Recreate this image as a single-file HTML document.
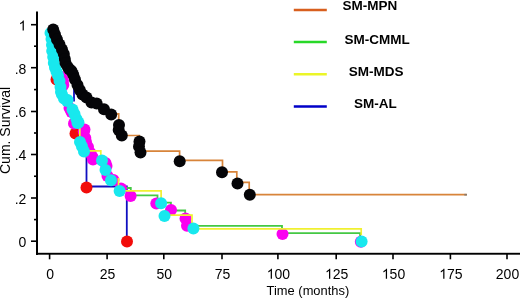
<!DOCTYPE html>
<html><head><meta charset="utf-8"><style>
html,body{margin:0;padding:0;background:#fff;}
body{width:520px;height:298px;overflow:hidden;}
svg{display:block;font-family:"Liberation Sans",sans-serif;will-change:transform;}
</style></head><body>
<svg width="520" height="298" viewBox="0 0 520 298">
<rect x="0" y="0" width="520" height="298" fill="#fff"/>
<g fill="none">
<path d="M74,86 L74,101.5 M86.5,150 L86.5,186.5 L126.8,186.5 L126.8,241" stroke="#1010C0" stroke-width="1.8"/>
<path d="M119,188 L130.8,188 L130.8,195.4 L157.5,195.4 L157.5,202.6 L170.9,202.6 L170.9,210.5 L185.2,210.5 L185.2,225.9 L282,225.9 L282,233.2 L360.1,233.2 L360.1,241" stroke="#44C844" stroke-width="1.8"/>
</g>
<circle cx="56.5" cy="79.5" r="6.0" fill="#F20C0A"/>
<circle cx="75.5" cy="133.5" r="6.0" fill="#F20C0A"/>
<circle cx="86.5" cy="187.5" r="6.0" fill="#F20C0A"/>
<circle cx="127" cy="241.6" r="6.0" fill="#F20C0A"/>
<circle cx="61.5" cy="77" r="6.0" fill="#FA00F0"/>
<circle cx="63" cy="80.5" r="6.0" fill="#FA00F0"/>
<circle cx="63.3" cy="85" r="6.0" fill="#FA00F0"/>
<circle cx="69.5" cy="108" r="6.0" fill="#FA00F0"/>
<circle cx="71.5" cy="112" r="6.0" fill="#FA00F0"/>
<circle cx="74" cy="123.5" r="6.0" fill="#FA00F0"/>
<circle cx="84.5" cy="129.5" r="6.0" fill="#FA00F0"/>
<circle cx="83.8" cy="131.5" r="6.0" fill="#FA00F0"/>
<circle cx="85.3" cy="138" r="6.0" fill="#FA00F0"/>
<circle cx="86" cy="142" r="6.0" fill="#FA00F0"/>
<circle cx="88" cy="147" r="6.0" fill="#FA00F0"/>
<circle cx="90.5" cy="153" r="6.0" fill="#FA00F0"/>
<circle cx="92.5" cy="157" r="6.0" fill="#FA00F0"/>
<circle cx="93" cy="159.5" r="6.0" fill="#FA00F0"/>
<circle cx="105.5" cy="163" r="6.0" fill="#FA00F0"/>
<circle cx="106.5" cy="166" r="6.0" fill="#FA00F0"/>
<circle cx="107.5" cy="176" r="6.0" fill="#FA00F0"/>
<circle cx="113.5" cy="180" r="6.0" fill="#FA00F0"/>
<circle cx="121" cy="188.5" r="6.0" fill="#FA00F0"/>
<circle cx="130.6" cy="196.1" r="6.0" fill="#FA00F0"/>
<circle cx="156.3" cy="203.5" r="6.0" fill="#FA00F0"/>
<circle cx="171" cy="210.1" r="6.0" fill="#FA00F0"/>
<circle cx="185.5" cy="218.5" r="6.0" fill="#FA00F0"/>
<circle cx="187" cy="225.8" r="6.0" fill="#FA00F0"/>
<circle cx="282.5" cy="234" r="6.0" fill="#FA00F0"/>
<circle cx="360.8" cy="241.8" r="6.0" fill="#FA00F0"/>
<path d="M79.8,128 L79.8,140 M88,150.9 L100.8,150.9 L100.8,160 M118.5,178 L118.5,190.9 L161.1,190.9 L161.1,205 M165,215.2 L192,215.2 L192,228.8 L361.2,228.8 L361.2,235" fill="none" stroke="#F0F030" stroke-width="1.7"/>
<circle cx="50.5" cy="33" r="6.0" fill="#18E8EE"/>
<circle cx="51.5" cy="39" r="6.0" fill="#18E8EE"/>
<circle cx="52" cy="45" r="6.0" fill="#18E8EE"/>
<circle cx="52.2" cy="51" r="6.0" fill="#18E8EE"/>
<circle cx="53.2" cy="57" r="6.0" fill="#18E8EE"/>
<circle cx="53.8" cy="63" r="6.0" fill="#18E8EE"/>
<circle cx="55" cy="67.5" r="6.0" fill="#18E8EE"/>
<circle cx="56.5" cy="71.5" r="6.0" fill="#18E8EE"/>
<circle cx="58" cy="75.5" r="6.0" fill="#18E8EE"/>
<circle cx="59.5" cy="81" r="6.0" fill="#18E8EE"/>
<circle cx="60.5" cy="87" r="6.0" fill="#18E8EE"/>
<circle cx="61" cy="92" r="6.0" fill="#18E8EE"/>
<circle cx="62" cy="94.5" r="6.0" fill="#18E8EE"/>
<circle cx="64" cy="98.5" r="6.0" fill="#18E8EE"/>
<circle cx="67.5" cy="100" r="6.0" fill="#18E8EE"/>
<circle cx="67" cy="101" r="6.0" fill="#18E8EE"/>
<circle cx="72.5" cy="109.5" r="6.0" fill="#18E8EE"/>
<circle cx="74.5" cy="114" r="6.0" fill="#18E8EE"/>
<circle cx="76.5" cy="119" r="6.0" fill="#18E8EE"/>
<circle cx="77.5" cy="123" r="6.0" fill="#18E8EE"/>
<circle cx="78.5" cy="122.5" r="6.0" fill="#18E8EE"/>
<circle cx="80" cy="142" r="6.0" fill="#18E8EE"/>
<circle cx="82" cy="146.5" r="6.0" fill="#18E8EE"/>
<circle cx="84" cy="151.5" r="6.0" fill="#18E8EE"/>
<circle cx="102" cy="160.5" r="6.0" fill="#18E8EE"/>
<circle cx="105.5" cy="170" r="6.0" fill="#18E8EE"/>
<circle cx="111" cy="180.3" r="6.0" fill="#18E8EE"/>
<circle cx="119.6" cy="191" r="6.0" fill="#18E8EE"/>
<circle cx="161.1" cy="203.3" r="6.0" fill="#18E8EE"/>
<circle cx="164.5" cy="216" r="6.0" fill="#18E8EE"/>
<circle cx="193.4" cy="228.6" r="6.0" fill="#18E8EE"/>
<circle cx="361.6" cy="241.6" r="6.0" fill="#18E8EE"/>
<path d="M53,29 L60,50 L70,75 L78,93 L90,101 L110,113.8 L118.7,113.8 L118.7,124 L122,124 L122,135.5 L139.3,135.5 L139.3,151.1 L179.6,151.1 L179.6,160.4 L222.5,160.4 L222.5,171.9 L236.8,171.9 L236.8,182.4 L249.2,182.4 L249.2,194.7 L466.7,194.7" fill="none" stroke="#D8843A" stroke-width="1.7"/>
<line x1="464.3" y1="194.7" x2="467" y2="194.7" stroke="#8a7a6a" stroke-width="1.7"/>
<circle cx="53.2" cy="29.5" r="6.0" fill="#050508"/>
<circle cx="55" cy="34.5" r="6.0" fill="#050508"/>
<circle cx="57" cy="39.5" r="6.0" fill="#050508"/>
<circle cx="59.5" cy="44.5" r="6.0" fill="#050508"/>
<circle cx="62" cy="49.5" r="6.0" fill="#050508"/>
<circle cx="63.8" cy="54" r="6.0" fill="#050508"/>
<circle cx="64.8" cy="59" r="6.0" fill="#050508"/>
<circle cx="65.5" cy="63" r="6.0" fill="#050508"/>
<circle cx="67.8" cy="67" r="6.0" fill="#050508"/>
<circle cx="69.5" cy="69.5" r="6.0" fill="#050508"/>
<circle cx="71.5" cy="71" r="6.0" fill="#050508"/>
<circle cx="73.2" cy="74.5" r="6.0" fill="#050508"/>
<circle cx="75" cy="79.5" r="6.0" fill="#050508"/>
<circle cx="77.5" cy="85" r="6.0" fill="#050508"/>
<circle cx="79.8" cy="90" r="6.0" fill="#050508"/>
<circle cx="82.5" cy="94.5" r="6.0" fill="#050508"/>
<circle cx="86.5" cy="97.5" r="6.0" fill="#050508"/>
<circle cx="91.5" cy="102.5" r="6.0" fill="#050508"/>
<circle cx="96.7" cy="103.5" r="6.0" fill="#050508"/>
<circle cx="104" cy="109.3" r="6.0" fill="#050508"/>
<circle cx="111.2" cy="114.6" r="6.0" fill="#050508"/>
<circle cx="119" cy="125" r="6.0" fill="#050508"/>
<circle cx="118.7" cy="130" r="6.0" fill="#050508"/>
<circle cx="121.8" cy="135.5" r="6.0" fill="#050508"/>
<circle cx="139.5" cy="141.5" r="6.0" fill="#050508"/>
<circle cx="139" cy="146.5" r="6.0" fill="#050508"/>
<circle cx="140.5" cy="152.4" r="6.0" fill="#050508"/>
<circle cx="179.7" cy="161.2" r="6.0" fill="#050508"/>
<circle cx="222" cy="172.2" r="6.0" fill="#050508"/>
<circle cx="237.5" cy="183.5" r="6.0" fill="#050508"/>
<circle cx="249.8" cy="194.7" r="6.0" fill="#050508"/>
<rect x="36" y="11.5" width="2" height="243.4" fill="#000"/>
<rect x="36" y="252.8" width="484" height="1.9" fill="#000"/>
<line x1="31" y1="241.20" x2="37" y2="241.20" stroke="#000" stroke-width="1.6"/><line x1="31" y1="198.00" x2="37" y2="198.00" stroke="#000" stroke-width="1.6"/><line x1="31" y1="154.50" x2="37" y2="154.50" stroke="#000" stroke-width="1.6"/><line x1="31" y1="111.50" x2="37" y2="111.50" stroke="#000" stroke-width="1.6"/><line x1="31" y1="67.70" x2="37" y2="67.70" stroke="#000" stroke-width="1.6"/><line x1="31" y1="24.70" x2="37" y2="24.70" stroke="#000" stroke-width="1.6"/><line x1="34" y1="219.60" x2="37" y2="219.60" stroke="#000" stroke-width="1.6"/><line x1="34" y1="176.25" x2="37" y2="176.25" stroke="#000" stroke-width="1.6"/><line x1="34" y1="133.00" x2="37" y2="133.00" stroke="#000" stroke-width="1.6"/><line x1="34" y1="89.60" x2="37" y2="89.60" stroke="#000" stroke-width="1.6"/><line x1="34" y1="46.20" x2="37" y2="46.20" stroke="#000" stroke-width="1.6"/><line x1="49.60" y1="254" x2="49.60" y2="259.3" stroke="#000" stroke-width="1.6"/><line x1="107.10" y1="254" x2="107.10" y2="259.3" stroke="#000" stroke-width="1.6"/><line x1="163.80" y1="254" x2="163.80" y2="259.3" stroke="#000" stroke-width="1.6"/><line x1="222.00" y1="254" x2="222.00" y2="259.3" stroke="#000" stroke-width="1.6"/><line x1="277.90" y1="254" x2="277.90" y2="259.3" stroke="#000" stroke-width="1.6"/><line x1="336.20" y1="254" x2="336.20" y2="259.3" stroke="#000" stroke-width="1.6"/><line x1="393.00" y1="254" x2="393.00" y2="259.3" stroke="#000" stroke-width="1.6"/><line x1="450.40" y1="254" x2="450.40" y2="259.3" stroke="#000" stroke-width="1.6"/><line x1="507.00" y1="254" x2="507.00" y2="259.3" stroke="#000" stroke-width="1.6"/>
<g font-size="13.5" fill="#000">
<text x="18.62" y="247.10" font-size="14">0</text><text x="14.72" y="203.90" font-size="14">.</text><text x="18.62" y="203.90" font-size="14">2</text><text x="14.72" y="160.40" font-size="14">.</text><text x="18.62" y="160.40" font-size="14">4</text><text x="14.72" y="117.40" font-size="14">.</text><text x="18.62" y="117.40" font-size="14">6</text><text x="14.72" y="73.60" font-size="14">.</text><text x="18.62" y="73.60" font-size="14">8</text><path d="M23.84,30.60 L22.61,30.60 L22.61,22.75 C22.31,23.03 21.92,23.32 21.43,23.60 C20.94,23.89 20.51,24.10 20.14,24.24 L20.14,23.05 C20.81,22.75 21.39,22.37 21.89,21.92 C22.40,21.49 22.75,21.05 22.96,20.58 L23.84,20.58 Z" fill="#000"/>
<text x="46.21" y="278.70" font-size="14">0</text><text x="99.82" y="278.70" font-size="14">2</text><text x="107.60" y="278.70" font-size="14">5</text><text x="156.52" y="278.70" font-size="14">5</text><text x="164.30" y="278.70" font-size="14">0</text><text x="214.72" y="278.70" font-size="14">7</text><text x="222.50" y="278.70" font-size="14">5</text><path d="M271.95,278.70 L270.71,278.70 L270.71,270.85 C270.42,271.13 270.03,271.42 269.54,271.70 C269.05,271.99 268.61,272.20 268.25,272.34 L268.25,271.15 C268.92,270.85 269.50,270.47 270.00,270.02 C270.50,269.59 270.85,269.15 271.06,268.68 L271.95,268.68 Z" fill="#000"/><text x="274.51" y="278.70" font-size="14">0</text><text x="282.29" y="278.70" font-size="14">0</text><path d="M330.25,278.70 L329.01,278.70 L329.01,270.85 C328.72,271.13 328.33,271.42 327.84,271.70 C327.35,271.99 326.91,272.20 326.55,272.34 L326.55,271.15 C327.22,270.85 327.80,270.47 328.30,270.02 C328.80,269.59 329.15,269.15 329.36,268.68 L330.25,268.68 Z" fill="#000"/><text x="332.81" y="278.70" font-size="14">2</text><text x="340.59" y="278.70" font-size="14">5</text><path d="M387.05,278.70 L385.81,278.70 L385.81,270.85 C385.52,271.13 385.13,271.42 384.64,271.70 C384.15,271.99 383.71,272.20 383.35,272.34 L383.35,271.15 C384.02,270.85 384.60,270.47 385.10,270.02 C385.60,269.59 385.95,269.15 386.16,268.68 L387.05,268.68 Z" fill="#000"/><text x="389.61" y="278.70" font-size="14">5</text><text x="397.39" y="278.70" font-size="14">0</text><path d="M444.45,278.70 L443.21,278.70 L443.21,270.85 C442.92,271.13 442.53,271.42 442.04,271.70 C441.55,271.99 441.11,272.20 440.75,272.34 L440.75,271.15 C441.42,270.85 442.00,270.47 442.50,270.02 C443.00,269.59 443.35,269.15 443.56,268.68 L444.45,268.68 Z" fill="#000"/><text x="447.01" y="278.70" font-size="14">7</text><text x="454.79" y="278.70" font-size="14">5</text><text x="495.82" y="278.70" font-size="14">2</text><text x="503.61" y="278.70" font-size="14">0</text><text x="511.39" y="278.70" font-size="14">0</text>
</g>
<text x="266.6" y="294.6" font-size="12.9" fill="#000">Time (months)</text>
<text transform="translate(10,174) rotate(-90)" x="0" y="0" font-size="14" fill="#000">Cum. Survival</text>
<g stroke-width="2.6">
<line x1="293.8" y1="10" x2="326.8" y2="10" stroke="#D85F1E"/>
<line x1="293.8" y1="42" x2="326.8" y2="42" stroke="#28D828"/>
<line x1="293.8" y1="74.2" x2="326.8" y2="74.2" stroke="#EBF528"/>
<line x1="293.8" y1="106.5" x2="326.8" y2="106.5" stroke="#0000C8"/>
</g>
<g font-size="13.5" font-weight="bold" fill="#000">
<text x="342.5" y="9.9">SM-MPN</text>
<text x="344.5" y="44.1">SM-CMML</text>
<text x="348.7" y="76.1">SM-MDS</text>
<text x="354" y="108.2">SM-AL</text>
</g>
</svg>
</body></html>
